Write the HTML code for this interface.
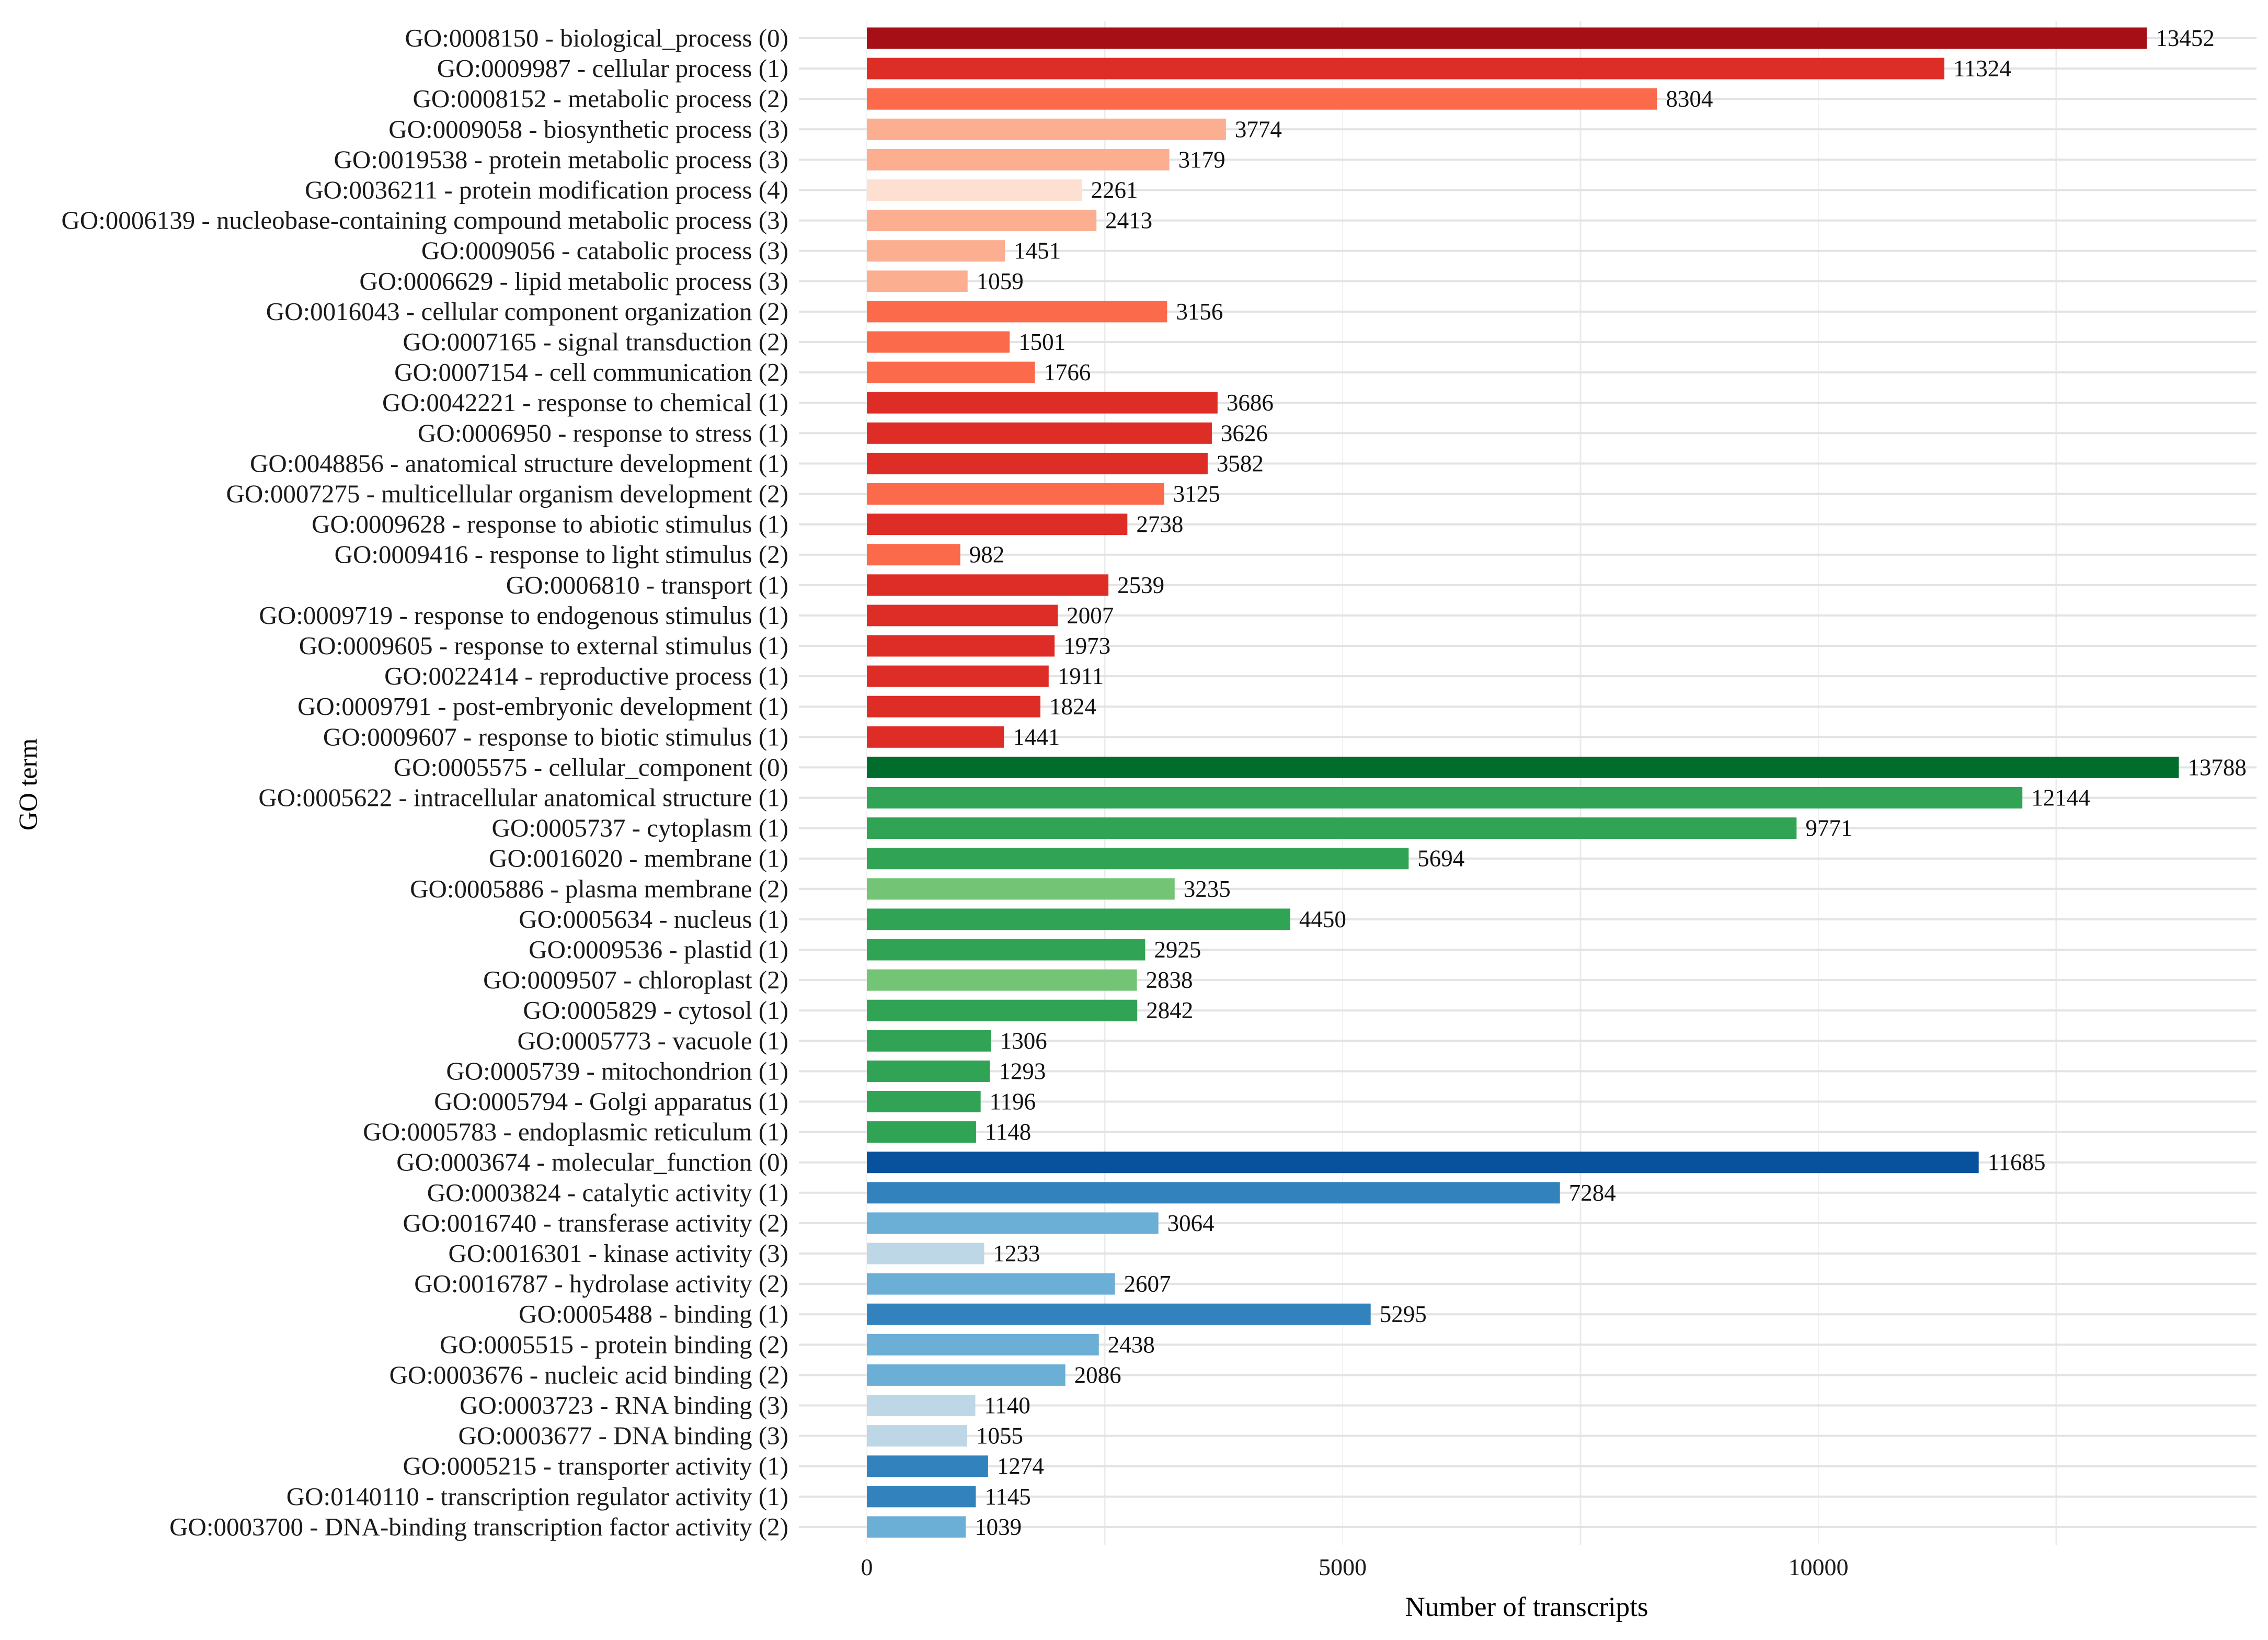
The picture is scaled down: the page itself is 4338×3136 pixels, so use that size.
<!DOCTYPE html>
<html><head><meta charset="utf-8"><style>
html,body{margin:0;padding:0;background:#fff}
svg{display:block;font-family:"Liberation Serif",serif}
</style></head><body>
<svg id="chart" width="4338" height="3136" viewBox="0 0 4338 3136" xmlns="http://www.w3.org/2000/svg">
<rect width="4338" height="3136" fill="#fff"/>
<g id="grid"></g><g id="bars"></g><g id="labels"></g><g id="vals"></g><g id="xticks"></g>
<text x="2920" y="3090" font-size="53" text-anchor="middle">Number of transcripts</text>
<text transform="translate(70,1500) rotate(-90)" font-size="50" text-anchor="middle">GO term</text>
</svg>
<script>
const categories=["GO:0008150 - biological_process (0)","GO:0009987 - cellular process (1)","GO:0008152 - metabolic process (2)","GO:0009058 - biosynthetic process (3)","GO:0019538 - protein metabolic process (3)","GO:0036211 - protein modification process (4)","GO:0006139 - nucleobase-containing compound metabolic process (3)","GO:0009056 - catabolic process (3)","GO:0006629 - lipid metabolic process (3)","GO:0016043 - cellular component organization (2)","GO:0007165 - signal transduction (2)","GO:0007154 - cell communication (2)","GO:0042221 - response to chemical (1)","GO:0006950 - response to stress (1)","GO:0048856 - anatomical structure development (1)","GO:0007275 - multicellular organism development (2)","GO:0009628 - response to abiotic stimulus (1)","GO:0009416 - response to light stimulus (2)","GO:0006810 - transport (1)","GO:0009719 - response to endogenous stimulus (1)","GO:0009605 - response to external stimulus (1)","GO:0022414 - reproductive process (1)","GO:0009791 - post-embryonic development (1)","GO:0009607 - response to biotic stimulus (1)","GO:0005575 - cellular_component (0)","GO:0005622 - intracellular anatomical structure (1)","GO:0005737 - cytoplasm (1)","GO:0016020 - membrane (1)","GO:0005886 - plasma membrane (2)","GO:0005634 - nucleus (1)","GO:0009536 - plastid (1)","GO:0009507 - chloroplast (2)","GO:0005829 - cytosol (1)","GO:0005773 - vacuole (1)","GO:0005739 - mitochondrion (1)","GO:0005794 - Golgi apparatus (1)","GO:0005783 - endoplasmic reticulum (1)","GO:0003674 - molecular_function (0)","GO:0003824 - catalytic activity (1)","GO:0016740 - transferase activity (2)","GO:0016301 - kinase activity (3)","GO:0016787 - hydrolase activity (2)","GO:0005488 - binding (1)","GO:0005515 - protein binding (2)","GO:0003676 - nucleic acid binding (2)","GO:0003723 - RNA binding (3)","GO:0003677 - DNA binding (3)","GO:0005215 - transporter activity (1)","GO:0140110 - transcription regulator activity (1)","GO:0003700 - DNA-binding transcription factor activity (2)"];
const counts=[13452,11324,8304,3774,3179,2261,2413,1451,1059,3156,1501,1766,3686,3626,3582,3125,2738,982,2539,2007,1973,1911,1824,1441,13788,12144,9771,5694,3235,4450,2925,2838,2842,1306,1293,1196,1148,11685,7284,3064,1233,2607,5295,2438,2086,1140,1055,1274,1145,1039];
const ontology=["BP","BP","BP","BP","BP","BP","BP","BP","BP","BP","BP","BP","BP","BP","BP","BP","BP","BP","BP","BP","BP","BP","BP","BP","CC","CC","CC","CC","CC","CC","CC","CC","CC","CC","CC","CC","CC","MF","MF","MF","MF","MF","MF","MF","MF","MF","MF","MF","MF","MF"];
const levels=[0,1,2,3,3,4,3,3,3,2,2,2,1,1,1,2,1,2,1,1,1,1,1,1,0,1,1,1,2,1,1,2,1,1,1,1,1,0,1,2,3,2,1,2,2,3,3,1,1,2];
const xTicks=[0,5000,10000];
const xMinor=[2500,7500,12500];
const palette={BP:["#A50F15","#DE2D26","#FB6A4A","#FCAE91","#FEE0D2"],CC:["#006D2C","#31A354","#74C476","#BAE4B3","#EDF8E9"],MF:["#08519C","#3182BD","#6BAED6","#BDD7E7","#EFF3FF"]};
const NS="http://www.w3.org/2000/svg";
const x0=1658,pxPer=910/5000;
const xs=v=>x0+v*pxPer;
const y0=73,step=58.1,bh=41;
const ys=i=>y0+i*step;
const panelL=1528,panelR=4316,panelT=40,panelB=2955;
function mk(t,a,p){const e=document.createElementNS(NS,t);for(const k in a)e.setAttribute(k,a[k]);p.appendChild(e);return e;}
const grid=document.getElementById('grid');
xMinor.forEach(v=>{const l=mk('line',{x1:xs(v),x2:xs(v),y1:panelT,y2:panelB,stroke:'#EBEBEB','stroke-width':3},grid);

});
xTicks.forEach(v=>{const l=mk('line',{x1:xs(v),x2:xs(v),y1:panelT,y2:panelB,stroke:'#F2F2F2','stroke-width':2},grid);

});
categories.forEach((c,i)=>{const l=mk('line',{x1:panelL,x2:panelR,y1:ys(i),y2:ys(i),stroke:'#E3E3E3','stroke-width':4},grid);

});
const bars=document.getElementById('bars'),labels=document.getElementById('labels'),vals=document.getElementById('vals');
categories.forEach((c,i)=>{
 const v=counts[i];
 const r=mk('rect',{x:xs(0),y:ys(i)-bh/2,width:xs(v)-xs(0),height:bh,fill:palette[ontology[i]][levels[i]]},bars);
 
 
 const t=mk('text',{x:1508,y:ys(i)+16,'font-size':49,'text-anchor':'end',fill:'#1a1a1a'},labels);t.textContent=c;
 
 
 const vt=mk('text',{x:xs(v)+17,y:ys(i)+15,'font-size':45,fill:'#111'},vals);vt.textContent=String(v);
 
 
});
const xt=document.getElementById('xticks');
xTicks.forEach(v=>{const t=mk('text',{x:xs(v),y:3012,'font-size':46,'text-anchor':'middle',fill:'#1a1a1a'},xt);t.textContent=String(v);

});
</script>
</body></html>
